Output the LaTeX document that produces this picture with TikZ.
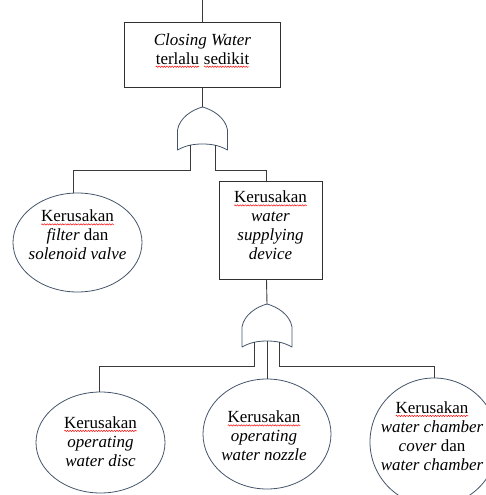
\documentclass[tikz,border=0pt]{standalone}
\usepackage{fontspec}
\setmainfont{Liberation Serif}
\usetikzlibrary{shapes.geometric,decorations.pathmorphing}
\definecolor{ellc}{HTML}{44546A}
\definecolor{boxc}{HTML}{303030}
\definecolor{wirec}{HTML}{3A3A3A}
\newcommand{\spellmark}[1]{\tikz[baseline=(w.base),x=1pt,y=1pt]{\node[inner sep=0pt,outer sep=0pt](w){#1};\draw[red, line width=0.45pt, decorate, decoration={snake, amplitude=0.7pt, segment length=2.6pt}] ([yshift=-2.6pt]w.base west) -- ([yshift=-2.6pt]w.base east);}}
\tikzset{
  boxnode/.style={draw=boxc, line width=0.8pt, inner sep=0pt},
  evt/.style={ellipse, draw=ellc, line width=0.8pt, inner sep=0pt},
  txt/.style={align=center, inner sep=0pt, font=\fontsize{17}{19}\selectfont},
  wire/.style={draw=wirec, line width=0.9pt},
  gateline/.style={draw=ellc, line width=0.8pt, line join=round},
  orgate/.pic={
    \draw[gateline] (-25,43) -- (-25,23) .. controls (-23,11) and (-11,3) .. (0,0)
      .. controls (11,3) and (23,11) .. (25,23) -- (25,43)
      .. controls (16,38) and (8,37) .. (0,37)
      .. controls (-8,37) and (-16,38) .. (-25,43) -- cycle;
    \coordinate (-top) at (0,0);
    \coordinate (-l) at (-12.5,38.3);
    \coordinate (-m) at (0,37);
    \coordinate (-r) at (12.5,38.3);
  }
}
\begin{document}
\begin{tikzpicture}[x=1pt,y=-1pt]
\useasboundingbox (0,0) rectangle (486,495);
\clip (0,0) rectangle (486,495);

% boxes
\node[boxnode, minimum width=156pt, minimum height=65pt] (b0) at (202.5,54.5) {};
\node[txt] (t0) at (202.5,50.5) {\textit{Closing Water}\\\spellmark{terlalu} \spellmark{sedikit}};

\node[boxnode, minimum width=103pt, minimum height=98pt] (b2) at (270.5,230) {};
\node[txt] (t2) at (270.5,225.5) {\spellmark{Kerusakan}\\\textit{water}\\\textit{supplying}\\\textit{device}};

% ellipses
\node[evt, minimum width=129pt, minimum height=99pt] (ev1) at (77.5,242.5) {};
\node[txt] (tv1) at (77.5,235) {\spellmark{Kerusakan}\\\textit{filter} dan\\\textit{solenoid valve}};

\node[evt, minimum width=129pt, minimum height=101pt] (ev2) at (100.5,442.5) {};
\node[txt] (tv2) at (100.5,441.5) {\spellmark{Kerusakan}\\\textit{operating}\\\textit{water disc}};

\node[evt, minimum width=128pt, minimum height=110pt] (ev3) at (267,434) {};
\node[txt] (tv3) at (264,436) {\spellmark{Kerusakan}\\\textit{operating}\\\textit{water nozzle}};

\node[evt, minimum width=128pt, minimum height=128pt] (ev4) at (434,442) {};
\node[txt] (tv4) at (432,436) {\spellmark{Kerusakan}\\\textit{water chamber}\\\textit{cover} dan\\\textit{water chamber}};

% gates
\pic (g1) at (202.5,107) {orgate};
\pic (g2) at (267,304) {orgate};

% helper coordinates
\coordinate (top) at (b0.north |- 0,0);
\coordinate (bus1) at (0,170);
\coordinate (bus2) at (0,366);
\coordinate (b2n) at ([xshift=-4pt]b2.north);
\coordinate (b2s) at ([xshift=-4pt]b2.south);

% connectors
\draw[wire] (top) -- (b0.north);
\draw[wire] (b0.south) -- (g1-top);
\draw[wire] (g1-l) -- (g1-l |- bus1) -| (ev1.95);
\draw[wire] (g1-r) -- (g1-r |- bus1) -| (b2n);
\draw[wire] (b2s) -- (g2-top);
\draw[wire] (g2-l) -- (g2-l |- bus2) -| ([xshift=-1.5pt]ev2.north);
\draw[wire] (g2-m) -- (ev3.north);
\draw[wire] (g2-r) -- (g2-r |- bus2) -| (ev4.north);
\end{tikzpicture}
\end{document}
